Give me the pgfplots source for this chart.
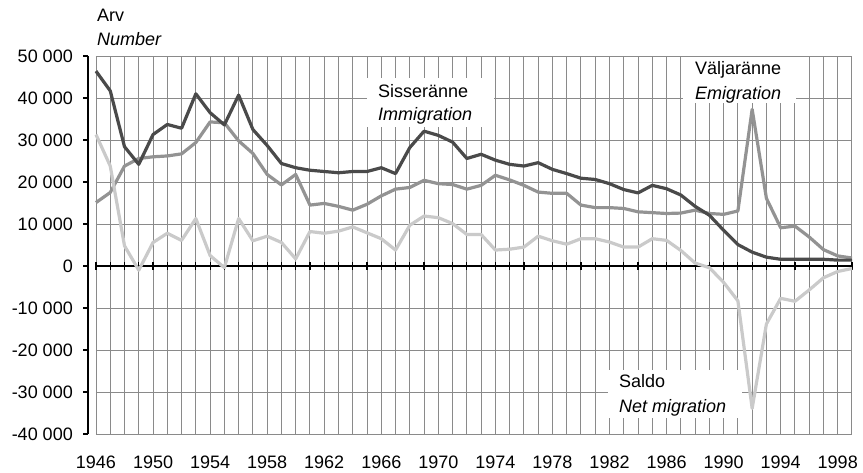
\documentclass[border=0pt]{standalone}
\usepackage{fontspec}
\setmainfont{Liberation Sans}
\usepackage{pgfplots}
\usepackage{pgfplotstable}
\pgfplotsset{compat=1.18}
\definecolor{cImm}{HTML}{4A4A4A}
\definecolor{cEmi}{HTML}{939393}
\definecolor{cNet}{HTML}{CACACA}
\definecolor{cGrid}{HTML}{8A8A8A}

\pgfplotstableread{
year imm emi net
1946 46400 15100 31300
1947 41700 17500 23800
1948 28400 23800 4800
1949 24200 25600 -1000
1950 31300 26000 5600
1951 33700 26200 7800
1952 32800 26700 6100
1953 41000 29400 11300
1954 36500 34300 2500
1955 33600 34100 -400
1956 40700 29800 11300
1957 32500 26800 6000
1958 28700 21800 7100
1959 24400 19300 5600
1960 23400 21800 1700
1961 22800 14500 8200
1962 22500 14900 7800
1963 22200 14200 8300
1964 22500 13300 9300
1965 22500 14700 7900
1966 23400 16700 6500
1967 22000 18300 3800
1968 28200 18700 9700
1969 32100 20400 11900
1970 31100 19600 11500
1971 29500 19400 10100
1972 25600 18300 7500
1973 26600 19200 7500
1974 25200 21600 3800
1975 24200 20500 4000
1976 23800 19200 4500
1977 24600 17600 7100
1978 23000 17300 6000
1979 22000 17300 5200
1980 20900 14500 6500
1981 20600 13900 6500
1982 19600 13900 5700
1983 18200 13700 4500
1984 17400 12900 4500
1985 19200 12700 6500
1986 18400 12500 6100
1987 16900 12600 3700
1988 14200 13300 700
1989 12100 12500 -400
1990 8500 12300 -3900
1991 5100 13100 -8300
1992 3300 37300 -33900
1993 2100 16100 -13800
1994 1600 9100 -7700
1995 1600 9500 -8400
1996 1600 6900 -5700
1997 1600 3900 -2800
1998 1400 2400 -1300
1999 1400 1900 -600
}\migr

\begin{document}
\begin{tikzpicture}[font=\fontsize{18bp}{21bp}\selectfont]
\useasboundingbox (-88bp,-39bp) rectangle (775bp,434bp);
\begin{axis}[
  scale only axis, width=764bp, height=378bp,
  xmin=1945.44, xmax=1999, ymin=-40000, ymax=50000,
  axis line style={draw=none},
  xtick={1946,1950,...,1998},
  minor xtick={1946,...,1999},
  xmajorgrids, xminorgrids,
  major grid style={cGrid, line width=0.9bp},
  minor grid style={cGrid, line width=0.9bp},
  x tick style={draw=none},
  ytick={-40000,-30000,-20000,-10000,0,10000,20000,30000,40000,50000},
  scaled y ticks=false,
  ytick pos=left, tick align=outside, major tick length=5bp,
  y tick style={black, line width=1.3bp},
  /pgf/number format/assume math mode=true,
  xticklabel style={/pgf/number format/1000 sep={}, anchor=center, inner sep=0pt, yshift=-23bp},
  yticklabel style={/pgf/number format/1000 sep={\ }, anchor=east, inner sep=0pt, xshift=-10bp},
  clip=false,
]
\pgfplotsinvokeforeach{-40000,-30000,-20000,-10000,10000,20000,30000,40000,50000}{
  \draw[cGrid, line width=0.9bp] (axis cs:1946,#1) -- (axis cs:1999,#1);
}
\draw[black, line width=2.4bp] (axis cs:1946,0) -- (axis cs:1999,0);
\pgfplotsinvokeforeach{1946,...,1999}{
  \draw[black, line width=1.2bp] ([yshift=-4bp]axis cs:#1,0) -- ([yshift=4bp]axis cs:#1,0);
}
\draw[black, line width=2.4bp] (rel axis cs:0,0) -- (rel axis cs:0,1);
\addplot[cEmi, line width=3.2bp, line join=round] table[x=year, y=emi] {\migr};
\addplot[cImm, line width=3.2bp, line join=round] table[x=year, y=imm] {\migr};
\addplot[cNet, line width=3.2bp, line join=round] table[x=year, y=net] {\migr};
\end{axis}
% annotation boxes
\fill[white] (279bp,307bp) rectangle (406bp,356bp);
\node[anchor=base west, inner sep=0pt] at (290bp,336bp) {Sisseränne};
\node[anchor=base west, inner sep=0pt] at (290bp,313bp) {\itshape Immigration};
\fill[white] (595bp,331bp) rectangle (708bp,377bp);
\node[anchor=base west, inner sep=0pt] at (607bp,359bp) {Väljaränne};
\node[anchor=base west, inner sep=0pt] at (607bp,334bp) {\itshape Emigration};
\fill[white] (520bp,16bp) rectangle (654bp,64bp);
\node[anchor=base west, inner sep=0pt] at (531bp,46bp) {Saldo};
\node[anchor=base west, inner sep=0pt] at (531bp,22bp) {\itshape Net migration};
% axis title
\node[anchor=base west, inner sep=0pt] at (9bp,412bp) {Arv};
\node[anchor=base west, inner sep=0pt] at (9bp,388bp) {\itshape Number};
\end{tikzpicture}
\end{document}
